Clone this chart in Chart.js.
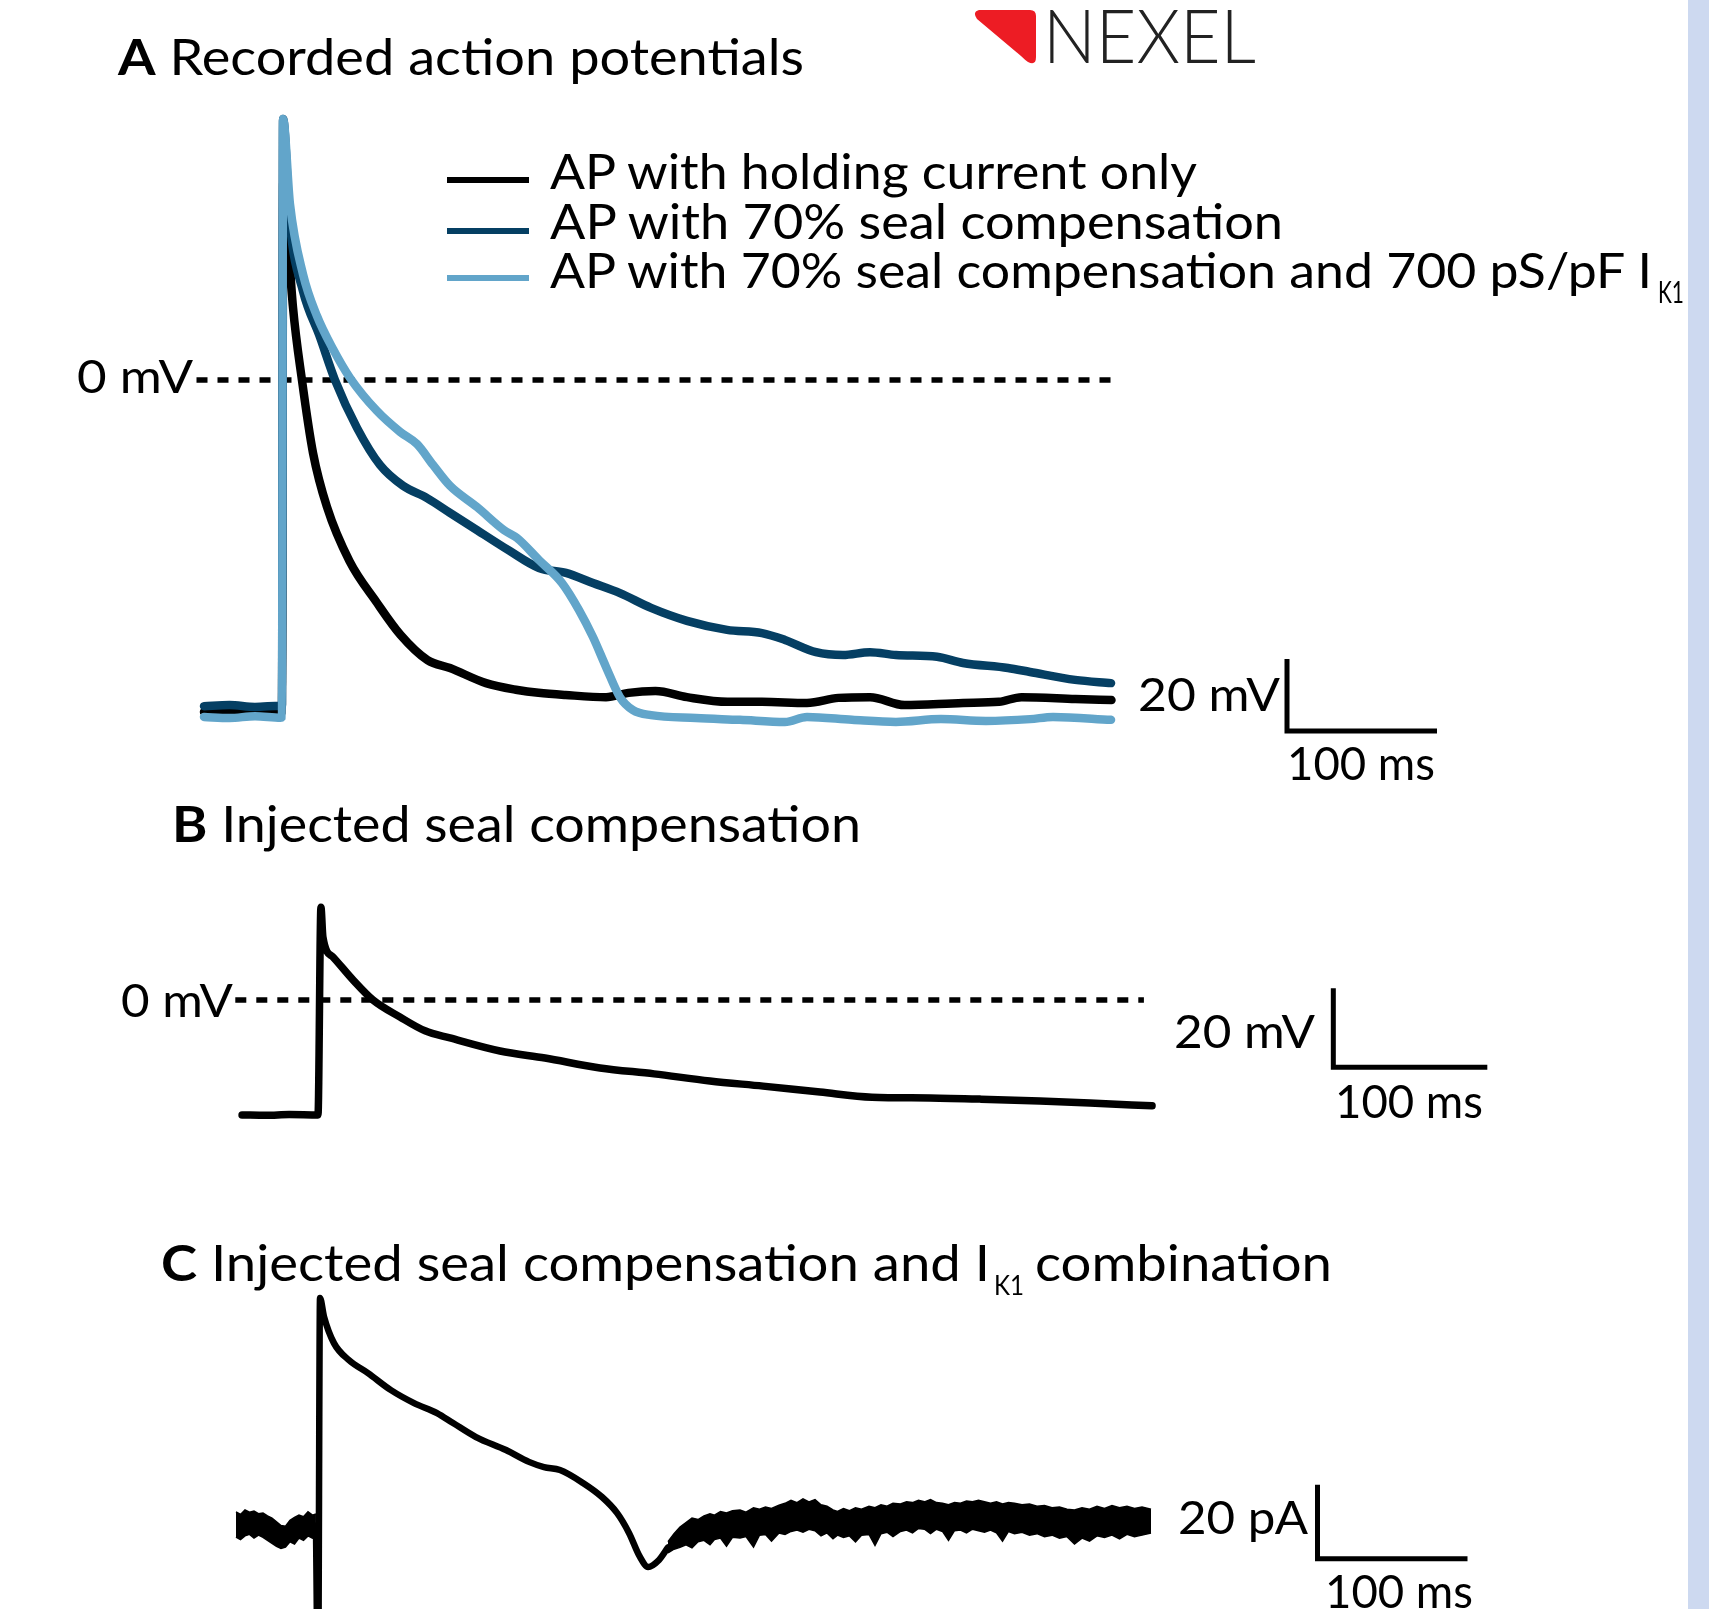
<!DOCTYPE html>
<html>
<head>
<meta charset="utf-8">
<title>Recorded action potentials</title>
<script src="https://cdn.jsdelivr.net/npm/chart.js@4.4.1/dist/chart.umd.min.js"></script>
<style>
  html, body { margin: 0; padding: 0; background: #fff; }
  #page { position: relative; width: 1709px; height: 1609px; overflow: hidden; background: #fff;
          font-family: Lato, 'DejaVu Sans', sans-serif; color: #000; }
  #page canvas { position: absolute; left: 0; }
  .lbl { position: absolute; white-space: nowrap; line-height: 1; transform-origin: 0 0; }
  .lbl b { font-weight: 700; }
  .mark { display: inline-block; width: 0; height: 0; vertical-align: baseline; }
  .swatch { position: absolute; left: 447px; width: 82px; height: 6px; }
  #strip { position: absolute; left: 1688px; top: 0; width: 21px; height: 1609px; background: #cdd9f0; }
  #logo { position: absolute; left: 0; top: 0; }
</style>
</head>
<body>
<div id="page">
  <canvas id="chartA" width="1709" height="660" style="top:100px"></canvas>
  <canvas id="chartB" width="1709" height="250" style="top:880px"></canvas>
  <canvas id="chartC" width="1709" height="329" style="top:1280px"></canvas>
  <svg id="logo" width="1100" height="80">
    <path d="M979 10 L1030 10 Q1036 10 1036 16 L1036 57 Q1036 66 1028 62 Q1025 60 1021 56 L977 19 Q972 12 979 10 Z" fill="#ed1c24"/>
  </svg>
  <div id="strip"></div>
</div>
<script>
const W = 1709;
const colHold = '#000000';
const colSeal = '#053f63';
const colIk1 = '#62a5ca';

// A: recorded action potentials (time in ms from stimulus, voltage in mV)
const apHoldT = [-52, -35, -18, -1, 0, 0.8, 2.7, 7.3, 13.3, 20.7, 30, 45, 63, 79, 97, 112, 136, 157, 171, 189, 216, 231, 249, 270, 297, 320, 350, 371, 392, 415, 454, 478, 493, 529, 553];
const apHoldV = [-92.2, -92.6, -92.0, -92.4, -92.2, 55, 46.7, 20.3, 0, -20.3, -35.3, -50.3, -61.7, -70.8, -77.8, -80, -84.2, -86.1, -86.9, -87.5, -88.1, -86.9, -86.4, -88.1, -89.4, -89.4, -89.7, -88.3, -88.1, -90.3, -89.7, -89.4, -88.1, -88.6, -88.9];

const apSealT = [-52, -35, -18, -1, 0, 0.7, 5.3, 14, 25.3, 35.3, 50, 65.3, 80.7, 96.7, 112, 130, 150.7, 171.3, 189.3, 207.3, 225.3, 246, 270, 296.7, 320, 335.3, 356, 374, 392, 409.3, 436.7, 454, 484, 498.7, 528.7, 552.7];
const apSealV = [-90.6, -90.3, -90.8, -90.5, -90.6, 72.5, 43.3, 24.7, 11.9, 0, -13.3, -23.6, -29.4, -32.8, -36.9, -41.7, -47.2, -52.2, -53.6, -56.4, -59.2, -63.3, -66.9, -69.4, -70.3, -72.2, -75.6, -76.4, -75.6, -76.4, -76.9, -78.6, -80, -81.1, -83.3, -84.2];

const apIk1T = [-52, -35, -18, -1, 0, 0.7, 5.3, 14, 23.3, 34, 45.3, 63.3, 78.7, 90, 100.7, 112, 130, 148, 156.7, 171.3, 186.7, 198, 207.3, 216, 225.3, 234, 246, 276, 305.3, 335.3, 350, 380, 409.3, 439.3, 469.3, 498.7, 514, 552.7];
const apIk1V = [-93.6, -93.9, -93.4, -93.8, -93.6, 72.5, 48.9, 29.4, 17.8, 8.6, 0.6, -8.6, -14.4, -17.8, -23.6, -29.4, -35.3, -41.7, -43.9, -50, -56.4, -63.9, -71.4, -79.7, -88.1, -91.7, -93.1, -93.9, -94.4, -95, -93.6, -94.4, -95, -94.2, -94.7, -94.2, -93.6, -94.4];

// B: injected seal compensation (mV)
const sealT = [-50.6, -35, -20, -1.3, 0.6, 1.9, 8.4, 21.4, 34.4, 51.9, 68.2, 84.4, 116.9, 146.1, 181.8, 216.9, 253.2, 287.7, 324.7, 358.4, 396.1, 429.2, 467.5, 500, 540.3];
const sealV = [-29.1, -29.2, -29.0, -29.1, 23.5, 15.9, 10.9, 5.1, 0, -4.3, -7.8, -9.6, -12.9, -14.7, -17.2, -18.7, -20.5, -21.8, -23.3, -24.6, -24.8, -25.1, -25.6, -26.1, -26.8];

// C: injected seal compensation + IK1 (pA); noisy parts given as upper / lower edge of the trace
const combPreT  = [-56, -53, -50, -47, -44, -41, -38, -35, -32, -29, -26, -23, -20, -17, -14, -11, -8, -5, -2.7];
const combPreHi = [4.1, 3.4, 4.6, 4.0, 4.3, 3.6, 3.8, 3.0, 2.4, 1.4, 0.4, 0.2, 1.8, 2.6, 3.2, 2.8, 4.1, 3.2, 3.5];
const combPreLo = [-2.7, -3.4, -2.4, -2.0, -3.0, -2.2, -2.8, -3.6, -4.4, -5.2, -5.8, -5.4, -4.0, -4.6, -3.0, -3.6, -2.4, -3.0, -2.7];

const combT = [-2.7, -1.3, 0, 2.7, 9.3, 19.3, 32, 47.3, 62.7, 78, 88.7, 104, 124, 139.3, 149.3, 160, 175.3, 188, 198, 206, 213.3, 218.7, 226, 232];
const combI = [0.4, -45, 61.9, 56.8, 49.7, 45.1, 41.6, 37, 33.5, 30.8, 28.1, 24.3, 20.8, 17.6, 16.2, 15.4, 11.9, 8.1, 3.8, -1.6, -8.1, -10.8, -8.9, -5.5];

const combPostT  = [232, 236, 240, 244, 248, 252, 256, 260, 263, 267, 271, 275, 280, 284, 289, 293, 297, 301, 306, 310,
                    314, 318, 322, 326, 330, 334, 338, 342, 345, 349, 353, 357, 361, 366, 370, 374, 378, 382, 387, 391,
                    395, 399, 403, 407, 411, 415, 419, 423, 427, 431, 435, 439, 443, 447, 451, 455, 459, 463, 468, 473,
                    478, 483, 488, 493, 498, 503, 508, 513, 518, 523, 528, 533, 538, 543, 548, 554];
const combPostHi = [-4.0, -1.8, 0.0, 1.2, 2.4, 2.0, 3.0, 3.6, 3.2, 4.2, 3.8, 4.4, 4.6, 4.0, 5.2, 4.8, 5.4, 5.0, 5.9, 6.4,
                    7.2, 6.6, 7.6, 6.8, 7.4, 6.0, 5.6, 4.6, 4.2, 5.0, 4.4, 5.2, 4.8, 5.6, 5.2, 6.0, 5.6, 6.4, 6.2, 6.8,
                    6.6, 7.2, 6.8, 7.4, 6.6, 6.4, 6.0, 6.6, 6.4, 7.0, 6.8, 7.2, 6.8, 6.4, 6.8, 6.2, 6.6, 6.4, 6.0, 6.2,
                    5.6, 5.8, 5.2, 5.4, 4.8, 4.6, 5.2, 4.8, 5.6, 5.0, 5.8, 5.2, 5.6, 5.0, 5.4, 4.8];
const combPostLo = [-7.0, -6.0, -5.5, -4.8, -5.6, -4.0, -3.6, -4.8, -3.4, -3.0, -5.2, -2.8, -3.0, -2.6, -5.4, -2.2, -2.0, -3.8, -1.6, -2.0,
                    -1.2, -0.8, -1.4, -0.6, -1.0, -2.4, -1.6, -3.2, -2.2, -2.8, -2.4, -4.0, -2.2, -2.0, -5.0, -1.8, -1.4, -2.6, -1.2, -0.8,
                    -1.6, -0.4, -0.6, -1.8, -0.6, -1.2, -3.6, -1.0, -0.8, -1.6, -0.6, -1.0, -1.4, -0.8, -1.6, -3.8, -1.2, -1.8, -1.4, -2.2,
                    -1.8, -2.6, -2.2, -3.0, -2.6, -4.6, -3.0, -3.8, -2.4, -2.8, -2.2, -3.2, -2.0, -2.6, -2.2, -1.6];

// scale bars and 0 mV reference lines (data units)
const scaleBarMs = 100;
const scaleBarMv = 20;
const scaleBarPa = 20;
const barCornerA = [670, -97.5];
const barCornerB = [658, -17];
const barCornerC = [665, -8.6];
const zeroLineA = [-57, 558];
const zeroLineB = [-55, 535];

// where each panel sits on the page
const panelA = { top: 100, height: 660, zeroY: 380, t0X: 282, pxPerMs: 1.5, pxPerUnit: 3.6 };
const panelB = { top: 880, height: 250, zeroY: 1000, t0X: 320, pxPerMs: 1.54, pxPerUnit: 3.95 };
const panelC = { top: 1280, height: 329, zeroY: 1527, t0X: 320, pxPerMs: 1.5, pxPerUnit: 3.7 };

function pts(ts, vs) {
  return ts.map((t, i) => ({ x: t, y: vs[i] }));
}

function trace(data, color, width) {
  return { data, borderColor: color, borderWidth: width, pointRadius: 0, fill: false,
           cubicInterpolationMode: 'monotone', borderJoinStyle: 'round', borderCapStyle: 'round' };
}

function dashed(range) {
  return { data: [{ x: range[0], y: 0 }, { x: range[1], y: 0 }], borderColor: '#000', borderWidth: 5.5,
           borderDash: [11, 10], pointRadius: 0, fill: false };
}

function scaleBar(c, h) {
  const data = [{ x: c[0], y: c[1] + h }, { x: c[0], y: c[1] }, { x: c[0] + scaleBarMs, y: c[1] }];
  return { data, borderColor: '#000', borderWidth: 5, pointRadius: 0, fill: false, tension: 0,
           borderJoinStyle: 'miter', borderCapStyle: 'butt' };
}

function band(ts, hi, lo) {
  return [
    { data: pts(ts, hi), borderColor: '#000', backgroundColor: '#000', borderWidth: 1.5, pointRadius: 0, fill: '+1', tension: 0 },
    { data: pts(ts, lo), borderColor: '#000', borderWidth: 1.5, pointRadius: 0, fill: false, tension: 0 }
  ];
}

function makeChart(id, p, datasets) {
  return new Chart(document.getElementById(id), {
    type: 'line',
    data: { datasets },
    options: {
      responsive: false,
      animation: false,
      events: [],
      layout: { padding: 0 },
      plugins: { legend: { display: false }, tooltip: { enabled: false } },
      scales: {
        x: { type: 'linear', display: false, min: -p.t0X / p.pxPerMs, max: (W - p.t0X) / p.pxPerMs },
        y: { type: 'linear', display: false,
             min: (p.zeroY - p.top - p.height) / p.pxPerUnit, max: (p.zeroY - p.top) / p.pxPerUnit }
      }
    }
  });
}

makeChart('chartA', panelA, [
  trace(pts(apIk1T, apIk1V), colIk1, 8.5),
  trace(pts(apSealT, apSealV), colSeal, 8.5),
  trace(pts(apHoldT, apHoldV), colHold, 8.5),
  dashed(zeroLineA),
  scaleBar(barCornerA, scaleBarMv)
]);

makeChart('chartB', panelB, [
  trace(pts(sealT, sealV), '#000', 7.5),
  dashed(zeroLineB),
  scaleBar(barCornerB, scaleBarMv)
]);

makeChart('chartC', panelC, [
  trace(pts(combT, combI), '#000', 6.5),
  ...band(combPreT, combPreHi, combPreLo),
  ...band(combPostT, combPostHi, combPostLo),
  scaleBar(barCornerC, scaleBarPa)
]);

// texts
const page = document.getElementById('page');

function label(html, x, base, size, width, extra) {
  const el = document.createElement('div');
  el.className = 'lbl';
  el.style.fontSize = size + 'px';
  if (extra) Object.assign(el.style, extra);
  el.innerHTML = html;
  const mark = document.createElement('span');
  mark.className = 'mark';
  el.appendChild(mark);
  page.appendChild(el);
  const w = el.getBoundingClientRect().width;
  el.style.left = x + 'px';
  el.style.top = (base - mark.offsetTop) + 'px';
  if (width) el.style.transform = 'scaleX(' + (width / w).toFixed(4) + ')';
}

function swatch(color, y) {
  const d = document.createElement('div');
  d.className = 'swatch';
  d.style.background = color;
  d.style.top = (y - 3) + 'px';
  page.appendChild(d);
}

label('<b>A</b> Recorded action potentials', 118, 75, 50, 686);
label('NEXEL', 1043, 63, 74, 213, { fontWeight: 300, color: '#222' });

swatch(colHold, 180);
swatch(colSeal, 231);
swatch(colIk1, 278);
label('AP with holding current only', 550, 189, 49, 647);
label('AP with 70% seal compensation', 550, 239, 49, 733);
label('AP with 70% seal compensation and 700 pS/pF I', 550, 288, 49, 1102);
label('K1', 1658, 303, 30, 26);

label('0 mV', 77, 393, 46, 116);
label('20 mV', 1138, 711, 46, 142);
label('100 ms', 1287, 780, 46, 148);

label('<b>B</b> Injected seal compensation', 172, 842, 50, 689);
label('0 mV', 121, 1017, 46, 112);
label('20 mV', 1174, 1048, 46, 141);
label('100 ms', 1335, 1118, 46, 148);

label('<b>C</b> Injected seal compensation and I', 161, 1281, 50, 829);
label('K1', 994, 1295, 26, 30);
label('combination', 1035, 1281, 50, 297);
label('20 pA', 1178, 1534, 46, 130);
label('100 ms', 1325, 1608, 46, 148);
</script>
</body>
</html>
